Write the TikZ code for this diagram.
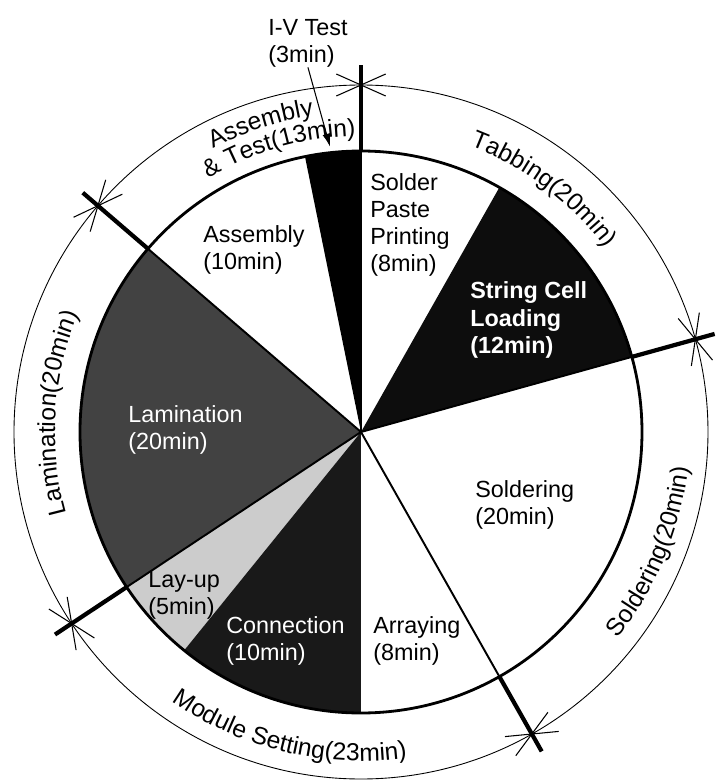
\documentclass[tikz,border=0pt]{standalone}
\usepackage{fontspec}
\setmainfont{Liberation Sans}
\usetikzlibrary{arrows.meta,decorations.text}

\newcommand\cellfont{\fontsize{13.3}{15.5}\selectfont}
\newcommand\ringfont{\fontsize{14}{16}\selectfont}

\begin{document}
\begin{tikzpicture}[scale=0.02, >=latex,
  cell/.style={anchor=west, align=left, inner sep=0pt, font=\cellfont},
  ringtext/.style={decorate, decoration={text along path, text align=center, text={|\ringfont|#1}}},
  ringarc/.style={line width=0.5pt},
  barb/.style={line width=0.6pt},
  divline/.style={line width=2.4pt}]
  % radii: inner pie, outer ring, end of the division lines, text baselines
  \def\Rin{281}
  \def\Rout{347}
  \def\Rend{367}
  \def\Rlow{306}
  \def\Rhigh{329}

  \useasboundingbox (-361,-349) rectangle (357,432);

  % 1. shaded sectors of the pie
  \foreach \s/\e/\c in {90/101.5/black, 15.5/60.5/black!95, 139.3/213.5/black!74,
                        213.5/231/black!20, 231/270/black!90}
    \fill[\c] (0,0) -- (\s:\Rin) arc (\s:\e:\Rin) -- cycle;
  \draw[line width=1.6pt] (0,0) circle (\Rin);

  % 2. division lines between the stages, with the arrow barbs of the ring
  \foreach \a in {90,15.5,-60.5,213.5,139.3} {
    \draw[line width=1.1pt] (0,0) -- (\a:\Rin);
    \draw[divline] (\a:\Rin) -- (\a:\Rend);
    \draw[barb] (\a:\Rout) ++(\a+114:27) -- ++(\a-66:54);
    \draw[barb] (\a:\Rout) ++(\a+66:27) -- ++(\a-114:54);
  }

  % 3. outer ring with the stage times
  \draw[ringarc] (0,0) circle (\Rout);

  \path[ringtext={Tabbing(20min)}] (90:\Rlow) arc (90:16:\Rlow);
  \path[ringtext={Soldering(20min)}] (-60.5:\Rhigh) arc (-60.5:15.5:\Rhigh);
  \path[ringtext={Module Setting(23min)}] (-146.5:\Rhigh) arc (-146.5:-60.5:\Rhigh);
  \path[ringtext={Lamination(20min)}] (213.5:\Rlow) arc (213.5:139.3:\Rlow);
  \path[ringtext={Assembly}] (140:320) arc (140:76:320);
  \path[ringtext={{\&} Test(13min)}] (140:\Rlow-10) arc (140:72:\Rlow-10);

  % 4. labels of the sectors
  \node[cell] (spp) at (9,207) {Solder\\Paste\\Printing\\(8min)};
  \node[cell, text=white, font=\cellfont\bfseries] (scl) at (109,112) {String Cell\\Loading\\(12min)};
  \node[cell] (sold) at (114,-73) {Soldering\\(20min)};
  \node[cell] (arr) at (12,-209) {Arraying\\(8min)};
  \node[cell, text=white] (conn) at (-135,-209) {Connection\\(10min)};
  \node[cell] (layup) at (-213,-163) {Lay-up\\(5min)};
  \node[cell, text=white] (lam) at (-233,2) {Lamination\\(20min)};
  \node[cell] (asm) at (-158,182) {Assembly\\(10min)};

  % 5. I-V test call-out
  \node[cell] (ivt) at (-93,389) {I-V Test\\(3min)};
  \coordinate (ivtip) at (96.2:287);
  \draw[-{Latex[length=2.6mm,width=1.6mm]}, line width=0.6pt] (ivt.south) -- (ivtip);
\end{tikzpicture}
\end{document}
